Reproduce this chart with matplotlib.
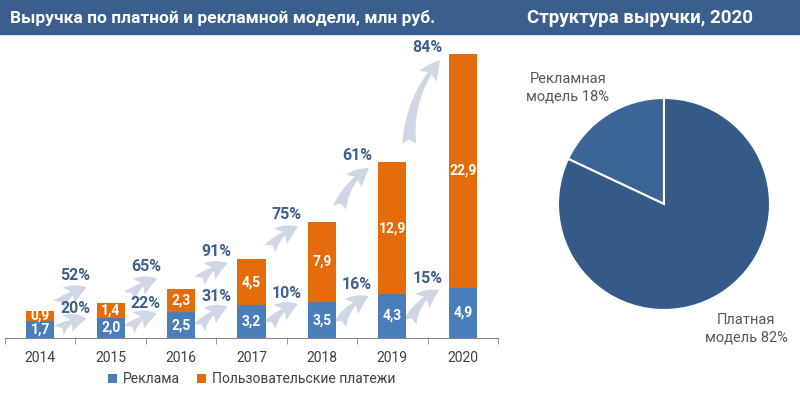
"""Revenue by paid and advertising model, with 2020 structure pie"""

import numpy as np
from matplotlib import pyplot as plt
from matplotlib.patches import Rectangle, FancyArrowPatch

plt.rcParams['font.family'] = ['Roboto', 'DejaVu Sans']

years = ['2014', '2015', '2016', '2017', '2018', '2019', '2020']
ads = [1.7, 2.0, 2.5, 3.2, 3.5, 4.3, 4.9]
paid = [0.9, 1.4, 2.3, 4.5, 7.9, 12.9, 22.9]
paid_growth = ['52%', '65%', '91%', '75%', '61%', '84%']
ads_growth = ['20%', '22%', '31%', '10%', '16%', '15%']

pie_labels = ['Рекламная\nмодель 18%', 'Платная\nмодель 82%']
pie_shares = [18, 82]

BLUE = '#4A7EBB'
ORANGE = '#E46C0A'
HEADER = '#3A5E8E'
GROWTH = '#3F5F8F'
ARROW = '#CFD7E7'
GREY = '#404040'


def fmt(v):
    return f'{v:.1f}'.replace('.', ',')


def growth_arrow(ax, x0, y0, x1, y1, rad=-0.25):
    ax.add_patch(FancyArrowPatch(
        (x0, y0), (x1, y1),
        connectionstyle=f'arc3,rad={rad}',
        arrowstyle='fancy,head_length=0.8,head_width=0.8,tail_width=0.55',
        mutation_scale=18,
        color=ARROW,
        lw=0,
        zorder=1,
    ))


fig = plt.figure(figsize=(8, 3.96), dpi=100)
fig.add_artist(Rectangle((0, 1 - 34 / 396), 1, 34 / 396,
                         transform=fig.transFigure, color=HEADER, zorder=0))
fig.text(10 / 800, 1 - 18 / 396, 'Выручка по платной и рекламной модели, млн руб.',
         color='white', fontsize=12.5, fontweight='bold', va='center', ha='left')
fig.text(640 / 800, 1 - 18 / 396, 'Структура выручки, 2020',
         color='white', fontsize=13.5, fontweight='bold', va='center', ha='center')

# stacked bars
ax = fig.add_axes([5 / 800, 58 / 396, 493 / 800, 291 / 396])
ax.patch.set_alpha(0)
x = np.arange(len(years))
ads = np.array(ads)
paid = np.array(paid)
total = ads + paid
ax.bar(x, ads, width=0.4, color=BLUE, label='Реклама', zorder=2)
ax.bar(x, paid, width=0.4, bottom=ads, color=ORANGE,
       label='Пользовательские платежи', zorder=2)

for i in range(len(years)):
    ax.text(x[i], ads[i] / 2, fmt(ads[i]), color='white', fontsize=10,
            fontweight='bold', ha='center', va='center', zorder=3)
    ax.text(x[i], ads[i] + paid[i] / 2, fmt(paid[i]), color='white', fontsize=10,
            fontweight='bold', ha='center', va='center', zorder=3)

for i in range(len(years) - 1):
    # growth of user payments
    y0 = total[i] * 1.08 + 0.2
    y1 = max(total[i + 1] - 0.4, y0 + 2.0)
    growth_arrow(ax, x[i] + 0.24, y0, x[i + 1] - 0.3, y1, rad=-0.2)
    ax.text(x[i + 1] - 0.5, y1 + 1.1, paid_growth[i], color=GROWTH, fontsize=11.5,
            fontweight='bold', ha='center', va='center', zorder=3)
    # growth of advertising
    y0 = ads[i] * 0.3
    y1 = ads[i + 1] - 0.1
    growth_arrow(ax, x[i] + 0.24, y0, x[i + 1] - 0.3, y1, rad=-0.25)
    ax.text(x[i + 1] - 0.5, y1 + 1.0, ads_growth[i], color=GROWTH, fontsize=11.5,
            fontweight='bold', ha='center', va='center', zorder=3)

ax.set_xlim(-0.5, len(years) - 0.5)
ax.set_ylim(0, 28.5)
ax.set_xticks(x)
ax.set_xticklabels(years, color=GREY, fontsize=10)
ax.set_xticks(np.arange(len(years) + 1) - 0.5, minor=True)
ax.tick_params(axis='x', which='major', length=0, pad=9)
ax.tick_params(axis='x', which='minor', length=4, color='#868686')
ax.set_yticks([])
for side in ('top', 'right', 'left'):
    ax.spines[side].set_visible(False)
ax.spines['bottom'].set_color('#868686')

ax.legend(loc='upper center', bbox_to_anchor=(0.5, -0.075), ncol=2, frameon=False,
          fontsize=10, handlelength=0.7, handleheight=0.7, handletextpad=0.4,
          columnspacing=1.2, labelcolor=GREY)

# pie
pax = fig.add_axes([558 / 800, 86 / 396, 212 / 800, 212 / 396])
pax.pie(pie_shares, colors=['#3D6497', '#355A87'], startangle=90,
        counterclock=True, wedgeprops=dict(edgecolor='white', linewidth=1.5))
pax.set_xlim(-1, 1)
pax.set_ylim(-1, 1)
pax.set_aspect('equal')
fig.text(568 / 800, 1 - 88 / 396, pie_labels[0], color='#595959', fontsize=10.5,
         ha='center', va='center', linespacing=1.3)
fig.text(746 / 800, 1 - 329 / 396, pie_labels[1], color='#595959', fontsize=10.5,
         ha='center', va='center', linespacing=1.3)

fig.savefig('out.png', dpi=100)
